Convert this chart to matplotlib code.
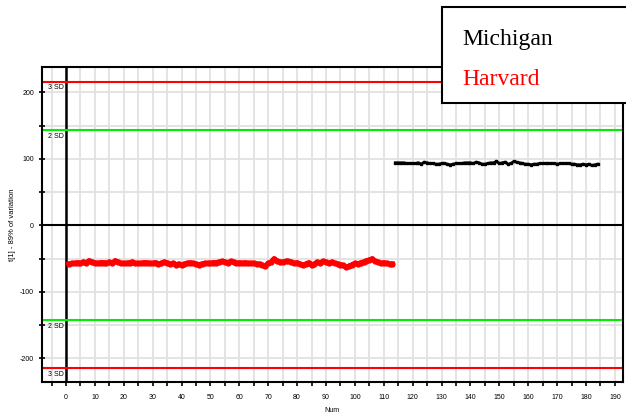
import matplotlib
matplotlib.use("Agg")
import matplotlib.pyplot as plt
from matplotlib.patches import Rectangle

# Harvard scores (Num 1..113)
harvard_num = list(range(1, 114))
harvard_t1 = [
    -58, -57, -57, -56, -57, -55, -56, -53, -55, -56,
    -57, -56, -56, -57, -55, -57, -53, -55, -57, -57,
    -57, -56, -55, -57, -57, -57, -56, -56, -57, -57,
    -56, -58, -57, -55, -56, -58, -57, -59, -58, -60,
    -58, -57, -56, -57, -58, -59, -58, -57, -57, -57,
    -56, -56, -55, -54, -55, -56, -54, -55, -57, -56,
    -57, -56, -57, -57, -57, -58, -58, -60, -61, -57,
    -55, -50, -53, -55, -55, -54, -54, -55, -57, -56,
    -58, -60, -58, -56, -60, -58, -55, -56, -54, -55,
    -57, -55, -57, -58, -59, -60, -63, -61, -59, -57,
    -58, -56, -55, -53, -52, -50, -54, -55, -57, -56,
    -57, -58, -58,
]

# Michigan scores (Num 114..184)
michigan_num = list(range(114, 185))
michigan_t1 = [
    94, 94, 94, 94, 93, 93, 93, 93, 94, 92,
    95, 94, 93, 93, 92, 92, 93, 93, 92, 91,
    92, 93, 93, 93, 94, 94, 94, 93, 95, 94,
    92, 92, 93, 94, 94, 96, 93, 94, 95, 92,
    93, 96, 95, 94, 93, 92, 92, 91, 92, 92,
    93, 93, 93, 93, 93, 93, 92, 93, 93, 93,
    93, 92, 92, 91, 91, 92, 91, 92, 90, 91, 92,
]

sd2 = (143.6, -142.0)
sd3 = (216.0, -214.0)

plt.rcParams['font.family'] = ['Liberation Sans', 'DejaVu Sans']
plt.rcParams['axes.unicode_minus'] = False

fig = plt.figure(figsize=(6.26, 4.15), dpi=100)
ax = fig.add_axes([0.0666, 0.0802, 0.9286, 0.7584])

ax.set_xlim(-8.4, 192.8)
ax.set_ylim(-235, 238)

ax.set_xticks(range(0, 200, 10))
ax.set_xticks(range(-5, 195, 5), minor=True)
ax.set_yticks([-200, -100, 0, 100, 200])
ax.set_yticks([-150, -50, 50, 150], minor=True)
ax.tick_params(which='both', labelsize=5, direction='inout', length=4, width=1.2, colors='black')
ax.tick_params(axis='x', which='both', direction='out', length=3, pad=6)
ax.grid(True, which='both', color='#e2e2e2', linewidth=1.3, zorder=0)
ax.set_axisbelow(True)
for s in ax.spines.values():
    s.set_linewidth(1.5)

ax.axhline(0, color='black', linewidth=1.5, zorder=2)
ax.axvline(0, color='black', linewidth=1.8, zorder=2)

for v in sd3:
    ax.axhline(v, color='#ff0000', linewidth=1.5, zorder=2)
for v in sd2:
    ax.axhline(v, color='#00ee00', linewidth=1.5, zorder=2)

ax.text(-6.2, sd3[0] - 4, '3 SD', fontsize=5, va='top', ha='left')
ax.text(-6.2, sd2[0] - 5, '2 SD', fontsize=5, va='top', ha='left')
ax.text(-6.2, sd2[1] - 5, '2 SD', fontsize=5, va='top', ha='left')
ax.text(-6.2, sd3[1] - 5, '3 SD', fontsize=5, va='top', ha='left')

ax.plot(harvard_num, harvard_t1, color='#ff0000', linewidth=3.6, marker='o', markersize=3.5, zorder=3)
ax.plot(michigan_num, michigan_t1, color='black', linewidth=2, marker='s', markersize=2, zorder=3)

ax.set_xlabel('Num', fontsize=5, labelpad=4)
ax.set_ylabel('t[1] - 89% of variation', fontsize=5.5, labelpad=3)

# legend box overlapping the top right corner
box = Rectangle((0.7056, 0.7518), 0.35, 0.2306, transform=fig.transFigure,
                facecolor='white', edgecolor='black', linewidth=1.5, zorder=5, clip_on=False)
fig.add_artist(box)
fig.text(0.738, 0.8916, 'Michigan', fontsize=17, family='Liberation Serif', color='black', zorder=6)
fig.text(0.738, 0.7952, 'Harvard', fontsize=17, family='Liberation Serif', color='#ff0000', zorder=6)

fig.savefig('out.png', dpi=100)
